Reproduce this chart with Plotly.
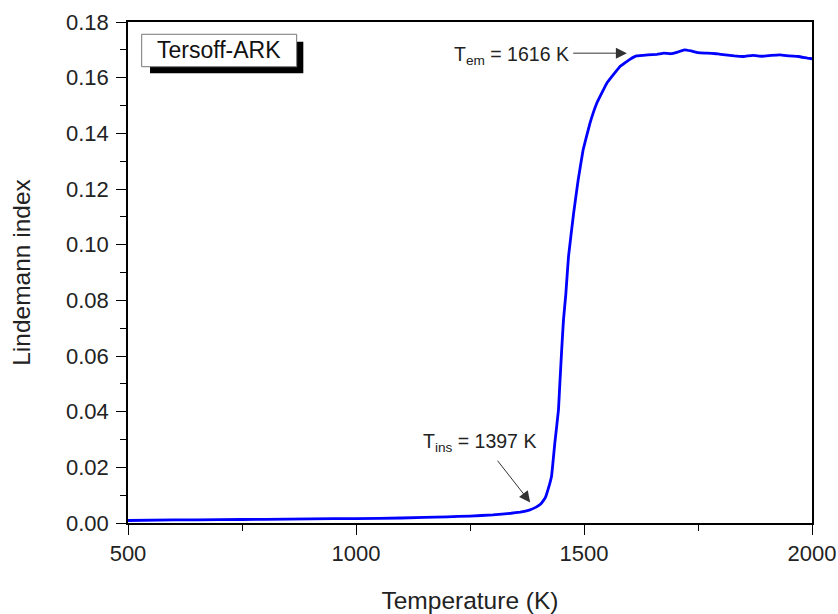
import plotly.graph_objects as go

# Data (Temperature in K, Lindemann index)
temperature = [500, 600, 700, 800, 900, 1000, 1100, 1200, 1250, 1300, 1340, 1360, 1380,
               1395, 1405, 1415, 1422, 1429, 1436, 1444, 1447, 1451, 1455, 1460, 1466,
               1477, 1487, 1498, 1513, 1528, 1550, 1579, 1600, 1615, 1640, 1660, 1675,
               1690, 1705, 1720, 1735, 1750, 1770, 1790, 1810, 1830, 1850, 1870, 1890,
               1910, 1930, 1950, 1970, 1990, 2000]
lindemann = [0.0009, 0.0011, 0.0012, 0.0013, 0.0015, 0.0016, 0.0018, 0.0022, 0.0025,
             0.0029, 0.0035, 0.0039, 0.0046, 0.0057, 0.0068, 0.0090, 0.0125, 0.0170,
             0.0287, 0.0406, 0.0500, 0.0620, 0.0730, 0.0820, 0.0957, 0.1110, 0.1230,
             0.1340, 0.1436, 0.1508, 0.1580, 0.1640, 0.1665, 0.1678, 0.1682, 0.1684,
             0.1688, 0.1686, 0.1692, 0.1700, 0.1696, 0.1690, 0.1688, 0.1686, 0.1682,
             0.1678, 0.1676, 0.1680, 0.1677, 0.1680, 0.1682, 0.1678, 0.1676, 0.1670,
             0.1668]

x_ticks = [500, 1000, 1500, 2000]
y_ticks = [0.00, 0.02, 0.04, 0.06, 0.08, 0.10, 0.12, 0.14, 0.16, 0.18]
y_tick_labels = ["0.00", "0.02", "0.04", "0.06", "0.08", "0.10", "0.12", "0.14", "0.16", "0.18"]

legend_label = "Tersoff-ARK"
ins_label = "T<sub>ins</sub> = 1397 K"
em_label = "T<sub>em</sub> = 1616 K"

FONT = "Liberation Sans, Arial, sans-serif"

fig = go.Figure()
fig.add_trace(go.Scatter(
    x=temperature, y=lindemann, mode="lines",
    line=dict(color="#0000ff", width=2.8, shape="spline", smoothing=0.2),
    showlegend=False, hoverinfo="skip"))

axis_common = dict(
    showline=True, linecolor="#000000", linewidth=1.6, mirror=True,
    ticks="outside", ticklen=10, tickwidth=1.4, tickcolor="#000000",
    showgrid=False, zeroline=False,
    tickfont=dict(family=FONT, size=22, color="#222222"),
    automargin=False,
)

fig.update_xaxes(
    range=[500, 2000], tickvals=x_ticks,
    title=dict(text="Temperature (K)", font=dict(family=FONT, size=24.5, color="#222222"), standoff=28),
    minor=dict(dtick=250, ticklen=6, tickwidth=1.2, tickcolor="#000000", ticks="outside"),
    **axis_common)
fig.update_yaxes(
    range=[0, 0.18], tickvals=y_ticks, ticktext=y_tick_labels,
    ticklabelstandoff=3,
    title=dict(text="Lindemann index", font=dict(family=FONT, size=24.5, color="#222222"), standoff=28),
    minor=dict(dtick=0.01, ticklen=6, tickwidth=1.2, tickcolor="#000000", ticks="outside"),
    **axis_common)

# Legend-like label box with drop shadow
fig.add_shape(type="rect", xref="paper", yref="paper",
              x0=0.0322, x1=0.2563, y0=0.8976, y1=0.9607,
              fillcolor="#000000", line=dict(width=0))
fig.add_shape(type="rect", xref="paper", yref="paper",
              x0=0.020, x1=0.2466, y0=0.9108, y1=0.9755,
              fillcolor="#ffffff", line=dict(color="#777777", width=1))
fig.add_annotation(xref="paper", yref="paper", x=0.1333, y=0.9432,
                   xanchor="center", yanchor="middle",
                   text=legend_label, showarrow=False,
                   font=dict(family=FONT, size=23, color="#111111"))

# T_ins arrow + label
fig.add_annotation(x=1382, y=0.0074, ax=1308, ay=0.0229, axref="x", ayref="y",
                   xref="x", yref="y", text="", showarrow=True,
                   arrowhead=2, arrowsize=2.2, arrowwidth=1, arrowcolor="#333333")
fig.add_annotation(x=1270, y=0.0291, xref="x", yref="y", text=ins_label,
                   xanchor="center", yanchor="middle",
                   showarrow=False, font=dict(family=FONT, size=19.5, color="#222222"))

# T_em arrow + label
fig.add_annotation(x=1594, y=0.1688, ax=1473, ay=0.1688, axref="x", ayref="y",
                   xref="x", yref="y", text="", showarrow=True,
                   arrowhead=2, arrowsize=2.2, arrowwidth=1, arrowcolor="#333333")
fig.add_annotation(x=1342, y=0.1680, xref="x", yref="y", text=em_label,
                   xanchor="center", yanchor="middle",
                   showarrow=False, font=dict(family=FONT, size=19.5, color="#222222"))

fig.update_layout(
    width=838, height=614,
    margin=dict(l=128, r=26, t=22, b=91),
    paper_bgcolor="#ffffff", plot_bgcolor="#ffffff",
    font=dict(family=FONT),
)

fig.write_html("out.html", config={"displayModeBar": False},
               post_script="document.body.style.margin='0';document.body.style.padding='0';")
